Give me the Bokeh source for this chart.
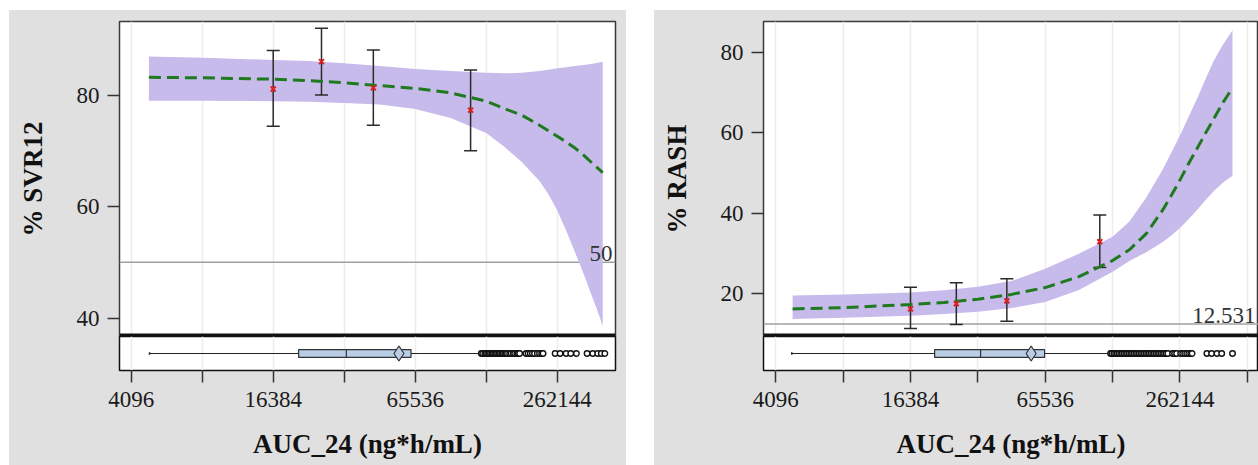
from bokeh.plotting import figure
from bokeh.models import (FixedTicker, CustomJSTickFormatter, Span, Label, Range1d, Spacer, Grid)
from bokeh.layouts import row, column
from bokeh.embed import file_html
from bokeh.resources import INLINE

FONT = "Liberation Serif"
BG = "#e0e0e0"

# ---------------- shared axis data ----------------
x_ticks = [4096, 8192, 16384, 32768, 65536, 131072, 262144, 524288]
x_tick_labels = [4096, 16384, 65536, 262144]
x_title = "AUC_24 (ng*h/mL)"

# ---------------- left panel: SVR12 ----------------
svr_title = "% SVR12"
svr_fit_x = [4871, 8192, 16384, 23170, 32768, 46341, 65536, 92682, 131072, 155872,
             185364, 220435, 240390, 262144, 285870, 311744, 339950, 370728, 389150, 408500]
svr_fit = [83.2, 83.1, 82.85, 82.6, 82.2, 81.7, 81.2, 80.4, 78.9, 77.6,
           76.4, 74.6, 73.6, 72.6, 71.6, 70.5, 69.2, 67.7, 66.9, 66.1]
svr_hi = [86.9, 86.7, 86.3, 86.1, 85.7, 85.2, 84.7, 84.3, 84.0, 83.9,
          84.0, 84.3, 84.55, 84.8, 85.0, 85.2, 85.4, 85.6, 85.8, 86.0]
svr_lo = [79.0, 79.0, 78.9, 78.8, 78.6, 78.3, 77.5, 75.9, 73.2, 70.8,
          68.0, 64.6, 62.2, 59.3, 55.7, 51.8, 47.8, 43.5, 41.2, 38.6]
svr_bin_x = [16384, 26250, 43540, 112500]
svr_obs = [81.1, 86.0, 81.3, 77.3]
svr_obs_lo = [74.4, 80.0, 74.6, 70.0]
svr_obs_hi = [88.0, 92.0, 88.1, 84.5]
svr_ref = 50
svr_ref_text = "50"
svr_box = dict(wlo=4900, q1=21000, med=33450, mean=55900, q3=62900, whi=124000)
svr_outliers = [124870, 126600, 129270, 131072, 132910, 134750, 136640, 138540, 140480,
                142440, 144430, 146440, 148490, 150560, 152660, 154790, 156960, 159150,
                161360, 164760, 167070, 170560, 172950, 176580, 179050, 181550,
                193240, 197280, 201450, 205680, 209990, 215900, 220440, 225060, 228210,
                256740, 269510, 285870, 299050, 316090,
                350720, 370730, 389150, 402880, 417100]

# ---------------- right panel: RASH ----------------
rash_title = "% RASH"
rash_fit_x = [4871, 8192, 16384, 23170, 32768, 46341, 65536, 92682, 131072, 155872,
              185364, 220435, 240390, 262144, 285870, 311744, 339950, 370728, 408500, 450130]
rash_fit = [16.3, 16.6, 17.4, 17.9, 18.7, 19.9, 21.6, 24.3, 28.3, 31.0,
            35.0, 41.0, 44.6, 48.3, 52.3, 56.0, 59.8, 63.5, 67.6, 71.2]
rash_hi = [19.6, 19.9, 20.4, 20.9, 21.8, 23.2, 26.3, 30.0, 34.2, 38.0,
           44.0, 51.1, 55.2, 59.4, 63.9, 68.4, 73.2, 77.9, 82.0, 85.5]
rash_lo = [13.8, 14.1, 14.6, 15.0, 15.6, 16.5, 18.0, 21.0, 25.5, 28.2,
           30.4, 33.0, 34.6, 36.4, 38.5, 40.8, 43.2, 45.5, 47.7, 49.4]
rash_bin_x = [16384, 26250, 44150, 114900]
rash_obs = [16.3, 17.6, 18.3, 33.0]
rash_obs_lo = [11.4, 12.4, 13.2, 26.6]
rash_obs_hi = [21.7, 22.8, 23.8, 39.6]
rash_ref = 12.531
rash_ref_text = "12.531"
rash_box = dict(wlo=4830, q1=21000, med=33700, mean=56700, q3=65100, whi=127500)
rash_outliers = [128380, 130170, 132910, 135230, 137590, 140000, 142440, 144930, 147470,
                 150040, 152660, 155330, 158050, 160800, 163620, 166490, 169400, 172350,
                 175360, 178430, 181550, 184720, 187960, 191230, 194580, 197970, 201450,
                 204950, 208550, 212180, 215900, 219660, 223520, 227400, 231400,
                 242890, 248000, 253220, 263970, 269510, 275170, 280960, 286860, 292890,
                 296980, 345900, 363100, 383810, 402880, 450130]

MAIN_H = 326   # curve cell (top border + frame)
BOX_H = 129    # box-plot cell (frame + x axis)


def style_axis(ax):
    ax.axis_line_color = None
    ax.major_tick_line_color = "#333333"
    ax.major_tick_line_width = 1.5
    ax.major_tick_in = 0
    ax.major_tick_out = 12
    ax.minor_tick_line_color = None
    ax.major_label_text_font = FONT
    ax.major_label_text_font_size = "23px"
    ax.major_label_text_color = "#1a1a1a"
    ax.axis_label_text_font = FONT
    ax.axis_label_text_font_size = "27px"
    ax.axis_label_text_font_style = "bold"
    ax.axis_label_text_color = "#111111"


def add_grid(p):
    p.add_layout(Grid(dimension=0, ticker=FixedTicker(ticks=x_ticks),
                      grid_line_color="#ececec", grid_line_width=1.5))


def make_panel(ytitle, xr, y_start, y_end, y_ticks, divider,
               width, border_left, border_right,
               fit_x, fit, lo, hi, bin_x, obs, obs_lo, obs_hi,
               ref, ref_text, box, outliers):
    # ---------- upper cell: fitted curve ----------
    m = figure(width=width, height=MAIN_H, x_axis_type="log", x_axis_location=None,
               x_range=xr, y_range=Range1d(y_start, y_end),
               output_backend="svg", toolbar_location=None,
               min_border_left=border_left, min_border_right=border_right,
               min_border_top=11, min_border_bottom=0)
    m.background_fill_color = "white"
    m.border_fill_color = BG
    m.outline_line_color = "#3a3a3a"
    m.outline_line_width = 1.5
    m.grid.visible = False
    add_grid(m)
    m.yaxis.ticker = FixedTicker(ticks=y_ticks)
    style_axis(m.yaxis[0])
    m.yaxis.major_label_standoff = 8
    m.yaxis.axis_label = ytitle
    m.yaxis.axis_label_standoff = 26

    m.add_layout(Span(location=ref, dimension="width", line_color="#a0a0a0",
                      line_width=1.5, level="underlay"))
    m.add_layout(Label(x=xr.end, y=ref, text=ref_text, text_align="right",
                       text_baseline="bottom", x_offset=-3, y_offset=1,
                       text_font=FONT, text_font_size="23px", text_color="#333333"))
    m.add_layout(Span(location=divider, dimension="width", line_color="#111111",
                      line_width=3))

    m.varea(x=fit_x, y1=lo, y2=hi, fill_color="#c6bbea", fill_alpha=1.0)
    m.segment(x0=bin_x, y0=obs_lo, x1=bin_x, y1=obs_hi, line_color="#2b2b2b", line_width=1.5)
    m.scatter(x=bin_x, y=obs_lo, marker="dash", size=13, line_color="#2b2b2b", line_width=1.5)
    m.scatter(x=bin_x, y=obs_hi, marker="dash", size=13, line_color="#2b2b2b", line_width=1.5)
    m.line(x=fit_x, y=fit, line_color="#1f7a1f", line_width=3, line_dash="12 6")
    m.scatter(x=bin_x, y=obs, marker="x", size=7, line_color="#e02020", line_width=2)

    # ---------- lower cell: box plot of exposure ----------
    b = figure(width=width, height=BOX_H, x_axis_type="log", y_axis_location=None,
               x_range=xr, y_range=Range1d(0, 1),
               output_backend="svg", toolbar_location=None,
               min_border_left=border_left, min_border_right=border_right,
               min_border_top=0, min_border_bottom=95)
    b.background_fill_color = "white"
    b.border_fill_color = BG
    b.outline_line_color = "#111111"
    b.outline_line_width = 1.5
    b.grid.visible = False
    add_grid(b)
    b.xaxis.ticker = FixedTicker(ticks=x_ticks)
    b.xaxis.formatter = CustomJSTickFormatter(
        args=dict(show=x_tick_labels),
        code="return show.includes(tick) ? String(Math.round(tick)) : '';")
    style_axis(b.xaxis[0])
    b.xaxis.major_label_standoff = 9
    b.xaxis.axis_label = x_title
    b.xaxis.axis_label_standoff = 19

    yc, bh = 0.5, 0.23
    b.segment(x0=[box["wlo"]], y0=[yc], x1=[box["whi"]], y1=[yc],
              line_color="#222222", line_width=1)
    b.segment(x0=[box["wlo"]], y0=[yc - 0.04], x1=[box["wlo"]], y1=[yc + 0.04],
              line_color="#222222", line_width=1.5)
    b.hbar(y=[yc], left=[box["q1"]], right=[box["q3"]], height=bh,
           fill_color="#b9cde5", line_color="#333333", line_width=1.2)
    b.segment(x0=[box["med"]], y0=[yc - bh / 2], x1=[box["med"]], y1=[yc + bh / 2],
              line_color="#333333", line_width=1.2)
    b.scatter(x=[box["mean"]], y=[yc], marker="diamond", size=15,
              fill_color="#b9cde5", line_color="#333333", line_width=1.2)
    b.scatter(x=outliers, y=[yc] * len(outliers), marker="circle", size=5.5,
              fill_color="white", line_color="#111111", line_width=1.4)
    return column(m, b, styles={"background-color": BG})


c1 = make_panel(svr_title, Range1d(3655, 462800), 36.7, 93.2, [40, 60, 80], 36.97,
                617, 110, 11,
                svr_fit_x, svr_fit, svr_lo, svr_hi, svr_bin_x, svr_obs, svr_obs_lo, svr_obs_hi,
                svr_ref, svr_ref_text, svr_box, svr_outliers)
c2 = make_panel(rash_title, Range1d(3610, 588200), 9.44, 87.7, [20, 40, 60, 80], 9.81,
                604, 109, 0,
                rash_fit_x, rash_fit, rash_lo, rash_hi, rash_bin_x, rash_obs, rash_obs_lo,
                rash_obs_hi, rash_ref, rash_ref_text, rash_box, rash_outliers)

layout = column(Spacer(height=10), row(Spacer(width=9), c1, Spacer(width=28), c2))
open("out.html", "w").write(file_html(layout, INLINE))
